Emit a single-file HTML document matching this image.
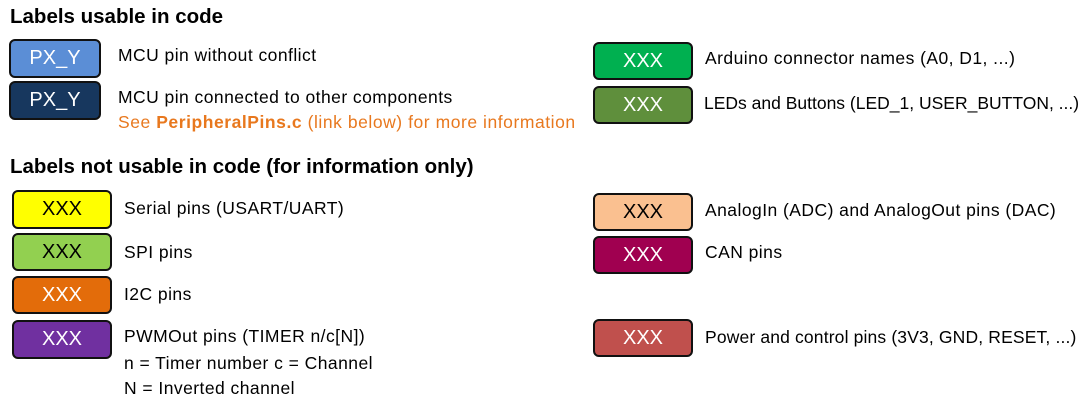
<!DOCTYPE html>
<html><head><meta charset="utf-8"><style>
body{margin:0;width:1088px;height:401px;background:#fff;position:relative;overflow:hidden;font-family:"Liberation Sans",sans-serif;color:#000}
.b{position:absolute;box-sizing:border-box;border:2px solid #111;border-radius:6px;font-size:20px;display:flex;align-items:center;justify-content:center;color:#fff}
.t{position:absolute;font-size:17.5px;letter-spacing:0.45px;white-space:nowrap;line-height:20px}
.h{position:absolute;font-size:20.5px;font-weight:bold;white-space:nowrap}
</style></head><body>
<div class="h" style="left:10px;top:5px">Labels usable in code</div>
<div class="b" style="left:9px;top:39px;width:92px;height:39px;background:#5b8ed6">PX_Y</div>
<div class="t" style="left:118px;top:45px">MCU pin without conflict</div>
<div class="b" style="left:9px;top:81px;width:92px;height:39px;background:#17375e">PX_Y</div>
<div class="t" style="left:118px;top:87px">MCU pin connected to other components</div>
<div class="t" style="left:118px;top:112px;color:#e8781e;letter-spacing:0.55px">See <b>PeripheralPins.c</b> (link below) for more information</div>

<div class="h" style="left:10px;top:155px">Labels not usable in code (for information only)</div>
<div class="b" style="left:12px;top:190px;width:100px;height:39px;background:#ffff00;color:#000">XXX</div>
<div class="t" style="left:124px;top:198px">Serial pins (USART/UART)</div>
<div class="b" style="left:12px;top:233px;width:100px;height:38px;background:#92d050;color:#000">XXX</div>
<div class="t" style="left:124px;top:242px">SPI pins</div>
<div class="b" style="left:12px;top:276px;width:100px;height:38px;background:#e36c0a">XXX</div>
<div class="t" style="left:124px;top:284px">I2C pins</div>
<div class="b" style="left:12px;top:320px;width:100px;height:39px;background:#7030a0">XXX</div>
<div class="t" style="left:124px;top:326px">PWMOut pins (TIMER n/c[N])</div>
<div class="t" style="left:124px;top:353px">n = Timer number c = Channel</div>
<div class="t" style="left:124px;top:378px">N = Inverted channel</div>

<div class="b" style="left:593px;top:42px;width:100px;height:38px;background:#00b050">XXX</div>
<div class="t" style="left:705px;top:48px">Arduino connector names (A0, D1, ...)</div>
<div class="b" style="left:593px;top:86px;width:100px;height:38px;background:#5f8f3c">XXX</div>
<div class="t" style="left:704px;top:93px;letter-spacing:0px">LEDs and Buttons (LED_1, USER_BUTTON, ...)</div>
<div class="b" style="left:593px;top:193px;width:100px;height:38px;background:#fac090;color:#000">XXX</div>
<div class="t" style="left:705px;top:200px">AnalogIn (ADC) and AnalogOut pins (DAC)</div>
<div class="b" style="left:593px;top:236px;width:100px;height:38px;background:#a00050">XXX</div>
<div class="t" style="left:705px;top:242px">CAN pins</div>
<div class="b" style="left:593px;top:319px;width:100px;height:38px;background:#c0504d">XXX</div>
<div class="t" style="left:705px;top:327px;letter-spacing:0.15px">Power and control pins (3V3, GND, RESET, ...)</div>
</body></html>
